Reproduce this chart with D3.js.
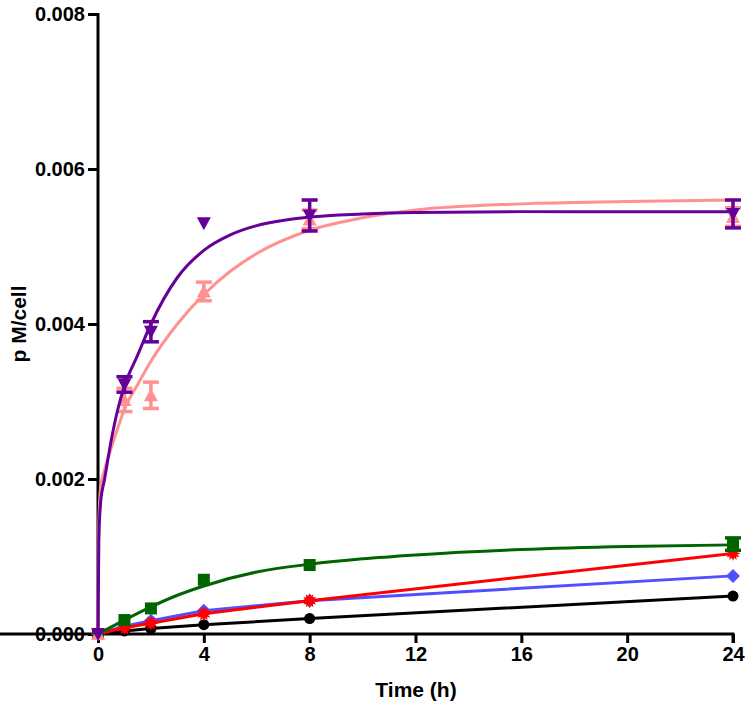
<!DOCTYPE html>
<html><head><meta charset="utf-8">
<script src="https://cdn.jsdelivr.net/npm/d3@7"></script>
<style>body{margin:0;background:#fff}svg{display:block}text{font-family:"Liberation Sans",Arial,sans-serif;font-weight:bold}</style>
</head><body>
<script>
// ---- data ----
const times = [0, 1, 2, 4, 8, 24];
const xTicks = [0, 4, 8, 12, 16, 20, 24];
const yTicks = [0, 0.002, 0.004, 0.006, 0.008];

const purpleMean = [0, 0.00322, 0.0039, 0.0053, 0.0054, 0.00542];
const purpleErr  = [0, 0.0001, 0.00013, 0, 0.0002, 0.00018];
const pinkMean   = [0, 0.00302, 0.00308, 0.00442, 0.00535, 0.00538];
const pinkErr    = [0, 0.00015, 0.00017, 0.00012, 0.00012, 0.00012];
const greenMean  = [0, 0.00018, 0.00033, 0.0007, 0.00089, 0.00116];
const greenErr   = [0, 0, 0, 0, 0, 0.00008];
const redMean    = [0, 0.00008, 0.00014, 0.00026, 0.00043, 0.00104];
const blueMean   = [0, 0.0001, 0.00017, 0.0003, 0.00043, 0.00075];
const blackMean  = [0, 0.00004, 0.00007, 0.00012, 0.0002, 0.00049];

// fitted curves
const curveT      = [0, 0.03, 0.1, 0.25, 0.5, 0.75, 1, 1.5, 2, 3, 4, 5, 6, 8, 10, 12, 16, 20, 24];
const purpleCurve = [0, 0.0012, 0.0017, 0.0020, 0.0025, 0.0029, 0.0032, 0.0036, 0.0040, 0.0046, 0.00495, 0.00515, 0.00527, 0.00538, 0.00542, 0.00544, 0.00545, 0.00545, 0.00545];
const pinkCurve   = [0, 0.0014, 0.0019, 0.00212, 0.0024, 0.00266, 0.0029, 0.00322, 0.00352, 0.0040, 0.00438, 0.00468, 0.00491, 0.00521, 0.00537, 0.00547, 0.00555, 0.00558, 0.0056];
const greenCurveT = [0, 1, 2, 3, 4, 6, 8, 10, 12, 16, 20, 24];
const greenCurve  = [0, 0.00018, 0.00035, 0.0005, 0.00062, 0.0008, 0.0009, 0.00097, 0.00102, 0.00109, 0.00113, 0.00115];

const W = 750, H = 709;
const svg = d3.select("body").append("svg").attr("width", W).attr("height", H);
const x = d3.scaleLinear().domain([0, 24]).range([98, 733]);
const y = d3.scaleLinear().domain([0, 0.008]).range([634, 14]);

const C = {purple:"#660099", pink:"#ff9191", green:"#006400", red:"#ff0000", blue:"#5050ff", black:"#000000"};

// axes
const yAxis = svg.append("g").attr("transform", "translate(98,0)")
  .call(d3.axisLeft(y).tickValues(yTicks).tickFormat(d3.format(".3f")).tickSize(10).tickPadding(3));
const xAxis = svg.append("g").attr("transform", "translate(0,634)")
  .call(d3.axisBottom(x).tickValues(xTicks).tickSize(9).tickPadding(4));
[yAxis, xAxis].forEach(g => {
  g.select(".domain").attr("stroke", "#000").attr("stroke-width", 3);
  g.selectAll(".tick line").attr("stroke", "#000").attr("stroke-width", 3);
  g.selectAll(".tick text").attr("fill", "#000").style("font-size", "20px").style("font-weight", "bold")
    .style("font-family", '"Liberation Sans",Arial,sans-serif');
});
yAxis.select(".domain").attr("d", "M-10,14.5H0V634");
xAxis.select(".domain").attr("d", "M0,0H733V9");

svg.append("text").attr("transform", "translate(26,324) rotate(-90)").attr("text-anchor", "middle")
  .style("font-size", "21px").text("p M/cell");
svg.append("text").attr("x", 416).attr("y", 697).attr("text-anchor", "middle")
  .style("font-size", "21px").text("Time (h)");

const plot = svg.append("g");
const line = d3.line().x(d => x(d[0])).y(d => y(d[1]));

function drawLine(ts, vs, color, curve) {
  plot.append("path").datum(ts.map((t, i) => [t, vs[i]]))
    .attr("fill", "none").attr("stroke", color).attr("stroke-width", 3)
    .attr("d", line.curve(curve || d3.curveLinear));
}
function drawErr(means, errs, color) {
  times.forEach((t, i) => {
    if (!errs[i]) return;
    const cx = x(t), y1 = y(means[i] + errs[i]), y2 = y(means[i] - errs[i]);
    const g = plot.append("g").attr("stroke", color).attr("stroke-width", 3.5);
    g.append("line").attr("x1", cx).attr("x2", cx).attr("y1", y1).attr("y2", y2);
    g.append("line").attr("x1", cx - 8).attr("x2", cx + 8).attr("y1", y1).attr("y2", y1);
    g.append("line").attr("x1", cx - 8).attr("x2", cx + 8).attr("y1", y2).attr("y2", y2);
  });
}
function drawMarks(means, color, shape) {
  times.forEach((t, i) => {
    const cx = x(t), cy = y(means[i]);
    let el;
    if (shape === "circle") el = plot.append("circle").attr("cx", cx).attr("cy", cy).attr("r", 5.5);
    else if (shape === "square") el = plot.append("rect").attr("x", cx - 6).attr("y", cy - 6).attr("width", 12).attr("height", 12);
    else if (shape === "diamond") el = plot.append("path").attr("d", `M${cx},${cy-7}L${cx+7},${cy}L${cx},${cy+7}L${cx-7},${cy}Z`);
    else if (shape === "up") el = plot.append("path").attr("d", `M${cx},${cy-7}L${cx+7},${cy+6}L${cx-7},${cy+6}Z`);
    else if (shape === "down") el = plot.append("path").attr("d", `M${cx},${cy+7}L${cx+7},${cy-6}L${cx-7},${cy-6}Z`);
    else if (shape === "star") {
      const pts = d3.range(24).map(k => {
        const a = k * Math.PI / 12, r = k % 2 ? 4.5 : 7.5;
        return [cx + r * Math.sin(a), cy - r * Math.cos(a)];
      });
      el = plot.append("path").attr("d", "M" + pts.join("L") + "Z");
    }
    el.attr("fill", color);
  });
}

// lower series
drawLine(times, blackMean, C.black);
drawMarks(blackMean, C.black, "circle");
drawLine(times, blueMean, C.blue);
drawMarks(blueMean, C.blue, "diamond");
drawLine(times, redMean, C.red);
drawMarks(redMean, C.red, "star");
drawLine(greenCurveT, greenCurve, C.green, d3.curveMonotoneX);
drawErr(greenMean, greenErr, C.green);
drawMarks(greenMean, C.green, "square");

// upper series
drawLine(curveT, pinkCurve, C.pink, d3.curveMonotoneX);
drawErr(pinkMean, pinkErr, C.pink);
drawMarks(pinkMean, C.pink, "up");
drawLine(curveT, purpleCurve, C.purple, d3.curveMonotoneX);
drawErr(purpleMean, purpleErr, C.purple);
drawMarks(purpleMean, C.purple, "down");
</script>
</body></html>
